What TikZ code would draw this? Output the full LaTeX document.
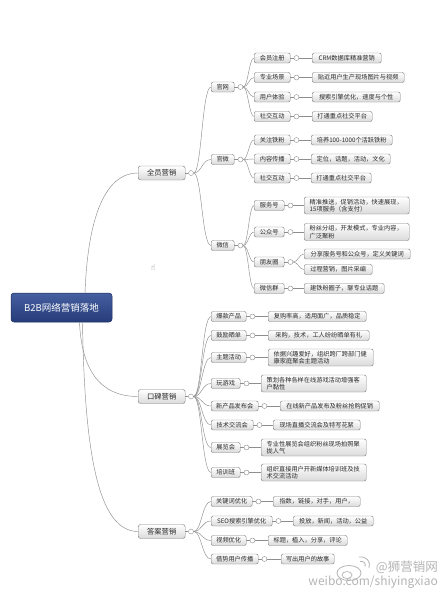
\documentclass[tikz,border=0pt]{standalone}
\usepackage{fontspec}
\setmainfont{Noto Sans CJK SC}
\newfontfamily\symfont{DejaVu Sans}
\usetikzlibrary{calc}
\definecolor{linec}{HTML}{8E8E8E}
\definecolor{boxline}{HTML}{808080}
\definecolor{boxbot}{HTML}{DADADA}
\definecolor{textc}{HTML}{2A2A2A}
\definecolor{roottop}{HTML}{465FA0}
\definecolor{rootbot}{HTML}{263C7A}
\definecolor{rootline}{HTML}{1E2E5E}
\definecolor{wm}{HTML}{B5B5B5}
\tikzset{
  conn/.style={draw=linec, line width=0.45pt},
  bx/.style={draw=boxline, line width=0.45pt, rounded corners=2pt, top color=white, bottom color=boxbot, text=textc, inner sep=0pt, anchor=west, minimum height=10pt},
  lvone/.style={bx, font=\fontsize{7.3}{8}\selectfont, minimum height=14pt, rounded corners=2.5pt},
  lvtwo/.style={bx, font=\fontsize{6.2}{7}\selectfont},
  leaf/.style={bx, font=\fontsize{6.2}{7}\selectfont},
  leaftwo/.style={bx, font=\fontsize{6.2}{7.3}\selectfont, align=left, text width=94pt, inner xsep=5.5pt, inner ysep=1.5pt, minimum height=17pt},
  knob/.style={circle, draw=linec, fill=white, line width=0.4pt, inner sep=0pt, minimum size=5pt},
  rootbox/.style={draw=rootline, line width=0.5pt, rounded corners=3pt, top color=roottop, bottom color=rootbot, text=white, font=\fontsize{9.5}{10}\selectfont, minimum width=101pt, minimum height=29pt, inner sep=0pt}
}
% row: child box, its knob, one leaf
\newcommand{\mmrow}[8]{% #1 name, #2 x, #3 y, #4 w, #5 text, #6 leafx, #7 leafw, #8 leaftext
  \node[lvtwo, minimum width=#4pt] (#1) at (#2,#3) {#5};
  \node[knob] (k#1) at ($(#1.east)+(6,0)$) {};
  \draw[conn] (#1.east) -- (k#1.west);
  \node[leaf, minimum width=#7pt] (L#1) at (#6,#3) {#8};
  \draw[conn] (k#1.east) -- (L#1.west);
}
\newcommand{\mmrowtwo}[7]{% two-line leaf
  \node[lvtwo, minimum width=#4pt] (#1) at (#2,#3) {#5};
  \node[knob] (k#1) at ($(#1.east)+(6,0)$) {};
  \draw[conn] (#1.east) -- (k#1.west);
  \node[leaftwo] (L#1) at (#6,#3) {#7};
  \draw[conn] (k#1.east) -- (L#1.west);
}
\begin{document}
\begin{tikzpicture}[x=1pt,y=-1pt]
\fill[white] (0,0) rectangle (440,590);
\useasboundingbox (0,0) rectangle (440,590);

% root
\node[rootbox] (R) at (61.5,307.5) {B2B网络营销落地};

% level 1
\node[lvone, minimum width=47pt] (A) at (138,173) {全员营销};
\node[knob] (kA) at (191,173) {};
\node[lvone, minimum width=47pt] (B) at (138,396.5) {口碑营销};
\node[knob] (kB) at (191,396.5) {};
\node[lvone, minimum width=47pt] (C) at (138,531.5) {答案营销};
\node[knob] (kC) at (191,531.5) {};
\foreach \n in {A,B,C} \draw[conn] (\n.east) -- (k\n.west);

\draw[conn] ([xshift=23.5pt]R.north) .. controls +(2,-55) and +(-40,0) .. (A.west);
\draw[conn] ([xshift=18pt]R.south) .. controls +(2,45) and +(-40,0) .. (B.west);
\draw[conn] ([xshift=21pt]R.south) .. controls +(2,130) and +(-40,0) .. (C.west);

% level 2 under A
\node[lvtwo, minimum width=23pt] (A1) at (211,87) {官网};
\node[lvtwo, minimum width=23pt] (A2) at (211,159.5) {官微};
\node[lvtwo, minimum width=23pt] (A3) at (211,245.5) {微信};
\foreach \n in {A1,A2,A3} {
  \node[knob] (k\n) at ($(\n.east)+(6,0)$) {};
  \draw[conn] (\n.east) -- (k\n.west);
  \draw[conn] (kA.east) .. controls +(8,0) and +(-9,0) .. (\n.west);
}

% under 官网
\mmrow{A11}{254}{58}{36}{会员注册}{312}{69}{CRM数据库精准营销}
\mmrow{A12}{254}{77.5}{36}{专业场景}{312}{92}{贴近用户生产现场图片与视频}
\mmrow{A13}{254}{97}{36}{用户体验}{312}{88}{搜索引擎优化，速度与个性}
\mmrow{A14}{254}{116.5}{36}{社交互动}{312}{60}{打通重点社交平台}
\foreach \n in {A11,A12,A13,A14} \draw[conn] (kA1.east) .. controls +(5,0) and +(-5,0) .. (\n.west);

% under 官微
\mmrow{A21}{254}{140}{36}{关注铁粉}{311}{81}{培养100-1000个活跃铁粉}
\mmrow{A22}{254}{159}{36}{内容传播}{311}{79}{定位，话题，活动，文化}
\mmrow{A23}{254}{178}{36}{社交互动}{311}{60}{打通重点社交平台}
\foreach \n in {A21,A22,A23} \draw[conn] (kA2.east) .. controls +(5,0) and +(-5,0) .. (\n.west);

% under 微信
\mmrowtwo{A31}{254}{205.5}{30}{服务号}{304}{精准推送，促销活动，快速展现，\\15项服务（含支付）}
\mmrowtwo{A32}{254}{232}{30}{公众号}{304}{粉丝分组，开发模式，专业内容，\\广泛聚粉}
\node[lvtwo, minimum width=30pt] (A33) at (254,262) {朋友圈};
\node[knob] (kA33) at ($(A33.east)+(6,0)$) {};
\draw[conn] (A33.east) -- (kA33.west);
\node[leaf, minimum width=106pt] (LA33a) at (304,254) {分享服务号和公众号，定义关键词};
\node[leaf, minimum width=68pt] (LA33b) at (304,269.5) {过程营销，图片采编};
\draw[conn] (kA33.east) .. controls +(5,0) and +(-5,0) .. (LA33a.west);
\draw[conn] (kA33.east) .. controls +(5,0) and +(-5,0) .. (LA33b.west);
\mmrow{A34}{254}{288.5}{30}{微信群}{304}{80}{建铁粉圈子，聊专业话题}
\foreach \n in {A31,A32,A33,A34} \draw[conn] (kA3.east) .. controls +(5,0) and +(-5,0) .. (\n.west);

% under 口碑营销
\mmrow{B1}{211}{316.5}{35}{爆款产品}{268}{98}{复购率高，适用面广，品质稳定}
\mmrow{B2}{211}{335.5}{35}{鼓励晒单}{268}{101}{采购，技术，工人纷纷晒单有礼}
\mmrowtwo{B3}{211}{357.5}{35}{主题活动}{268}{依据兴趣爱好，组织跨厂跨部门健\\康家庭聚会主题活动}
\mmrowtwo{B4}{211}{383.5}{29}{玩游戏}{261}{策划各种各样在线游戏活动增强客\\户黏性}
\mmrow{B5}{211}{406}{47}{新产品发布会}{280}{99}{在线新产品发布及粉丝抢购促销}
\mmrow{B6}{211}{425}{42}{技术交流会}{273}{87}{现场直播交流会及特写花絮}
\mmrowtwo{B7}{211}{447.5}{29}{展览会}{261}{专业性展览会组织粉丝现场拍照聚\\拢人气}
\mmrowtwo{B8}{211}{472.5}{29}{培训班}{261}{组织直接用户开新媒体培训班及技\\术交流活动}
\foreach \n in {B1,B2,B3,B4,B5,B6,B7,B8} \draw[conn] (kB.east) .. controls +(8,0) and +(-9,0) .. (\n.west);

% under 答案营销
\mmrow{C1}{211}{501.5}{41}{关键词优化}{273}{87}{指数，链接，对手，用户，}
\mmrow{C2}{211}{521}{61}{SEO搜索引擎优化}{293}{80}{投放，新闻，活动，公益}
\mmrow{C3}{211}{540.5}{35}{视频优化}{268}{79}{标题，植入，分享，评论}
\mmrow{C4}{211}{559}{47}{借势用户传播}{281}{53}{写出用户的故事}
\foreach \n in {C1,C2,C3,C4} \draw[conn] (kC.east) .. controls +(8,0) and +(-9,0) .. (\n.west);

% cursor
\node[font=\symfont\fontsize{8}{8}\selectfont, text=gray, inner sep=0pt] (cur) at (153,268) {☝};

% watermark
\draw[wm, line width=0.8pt] (349,573) ellipse [x radius=12pt, y radius=7.5pt];
\draw[wm, line width=0.7pt] (347,575) ellipse [x radius=5pt, y radius=3.5pt];
\draw[wm, line width=0.8pt] (359,557) .. controls (367,556) and (371,562) .. (369,568);
\draw[wm, line width=0.8pt] (360,561.5) .. controls (364,561) and (366,563.5) .. (365,566.5);
\node[font=\fontsize{12.5}{13}\selectfont, text=wm, anchor=east, inner sep=0pt] (wm1) at (438,567) {@狮营销网};
\node[font=\fontsize{12}{12}\selectfont, text=wm, anchor=east, inner sep=0pt] (wm2) at (438,582) {weibo.com/shiyingxiao};
\end{tikzpicture}
\end{document}
